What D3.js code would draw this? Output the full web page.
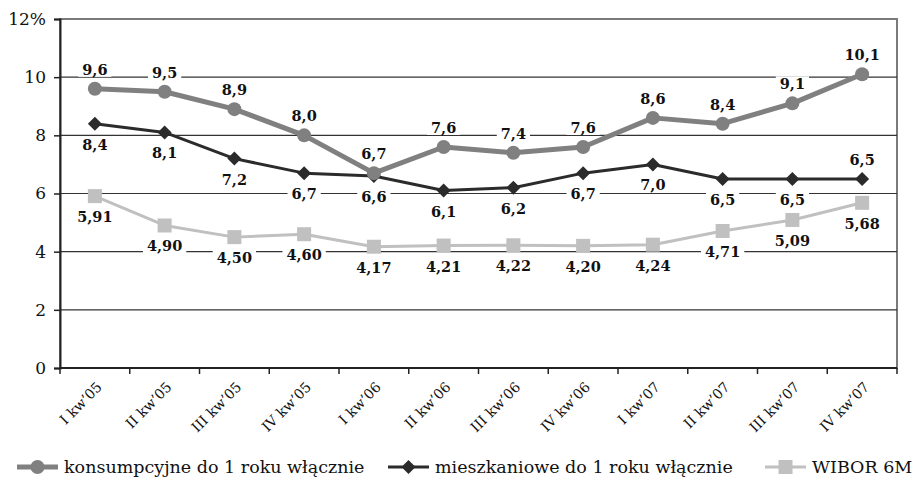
<!DOCTYPE html>
<html>
<head>
<meta charset="utf-8">
<script src="https://cdn.jsdelivr.net/npm/d3@7"></script>
<style>
  html, body { margin: 0; padding: 0; background: #fff; }
  svg { display: block; font-family: "DejaVu Serif", serif; }
</style>
</head>
<body>
<svg id="chart" width="919" height="494"></svg>
<script>
// Quarters on the x axis
const categories = ["I kw’05", "II kw’05", "III kw’05", "IV kw’05",
                    "I kw’06", "II kw’06", "III kw’06", "IV kw’06",
                    "I kw’07", "II kw’07", "III kw’07", "IV kw’07"];

// Interest rates, %
const konsumpcyjne = [9.6, 9.5, 8.9, 8.0, 6.7, 7.6, 7.4, 7.6, 8.6, 8.4, 9.1, 10.1];
const mieszkaniowe = [8.4, 8.1, 7.2, 6.7, 6.6, 6.1, 6.2, 6.7, 7.0, 6.5, 6.5, 6.5];
const wibor6m      = [5.91, 4.90, 4.50, 4.60, 4.17, 4.21, 4.22, 4.20, 4.24, 4.71, 5.09, 5.68];

const seriesNames = ["konsumpcyjne do 1 roku włącznie",
                     "mieszkaniowe do 1 roku włącznie",
                     "WIBOR 6M"];

const yTicks = [0, 2, 4, 6, 8, 10, 12];

const svg = d3.select("#chart");
const plot = { left: 60, right: 897, top: 19, bottom: 368 };

const x = d3.scaleBand().domain(categories).range([plot.left, plot.right]);
const y = d3.scaleLinear().domain([0, 12]).range([plot.bottom, plot.top]);
const cx = c => x(c) + x.bandwidth() / 2;

// Frame (top and right edges are light)
svg.append("rect")
  .attr("x", plot.left).attr("y", plot.top)
  .attr("width", plot.right - plot.left).attr("height", plot.bottom - plot.top)
  .attr("fill", "none").attr("stroke", "#7a7a7a").attr("stroke-width", 2);

// Horizontal gridlines
svg.append("g").selectAll("line")
  .data(yTicks.filter(t => t > 0 && t < 12))
  .join("line")
  .attr("x1", plot.left).attr("x2", plot.right)
  .attr("y1", d => y(d)).attr("y2", d => y(d))
  .attr("stroke", "#333").attr("stroke-width", 1.2);

// Y axis
const yAxis = svg.append("g")
  .attr("transform", `translate(${plot.left},0)`)
  .call(d3.axisLeft(y).tickValues(yTicks)
    .tickFormat(d => d === 12 ? "12%" : String(d))
    .tickSize(6).tickPadding(8));
yAxis.select(".domain").attr("stroke", "#222").attr("stroke-width", 2);
yAxis.selectAll(".tick line").attr("stroke", "#222").attr("stroke-width", 1.5);
yAxis.selectAll(".tick text")
  .attr("font-family", "DejaVu Serif, serif")
  .attr("font-size", 17).attr("fill", "#111");

// X axis: baseline, ticks at band edges, rotated labels
svg.append("line")
  .attr("x1", plot.left).attr("x2", plot.right)
  .attr("y1", plot.bottom).attr("y2", plot.bottom)
  .attr("stroke", "#222").attr("stroke-width", 2);

const edges = categories.map(c => x(c)).concat([x(categories[categories.length - 1]) + x.bandwidth()]);
svg.append("g").selectAll("line")
  .data(edges)
  .join("line")
  .attr("x1", d => d).attr("x2", d => d)
  .attr("y1", plot.bottom).attr("y2", plot.bottom + 6)
  .attr("stroke", "#222").attr("stroke-width", 1.5);

const labelPivotY = plot.bottom + 20;
svg.append("g").selectAll("text")
  .data(categories)
  .join("text")
  .attr("x", d => cx(d) + 8)
  .attr("y", labelPivotY)
  .attr("transform", d => `rotate(-45, ${cx(d) + 8}, ${labelPivotY})`)
  .attr("text-anchor", "end")
  .attr("font-size", 14)
  .attr("fill", "#111")
  .text(d => d);

// Series definitions
const series = [
  { name: seriesNames[0], values: konsumpcyjne, color: "#808080", width: 5, marker: "circle",
    fmt: v => d3.format(".1f")(v).replace(".", ","), pos: () => -1 },
  { name: seriesNames[1], values: mieszkaniowe, color: "#2b2b2b", width: 3, marker: "diamond",
    fmt: v => d3.format(".1f")(v).replace(".", ","), pos: (v, i) => i === categories.length - 1 ? -1 : 1 },
  { name: seriesNames[2], values: wibor6m, color: "#c0c0c0", width: 3, marker: "square",
    fmt: v => d3.format(".2f")(v).replace(".", ","), pos: () => 1 }
];

const line = d3.line().x((d, i) => cx(categories[i])).y(d => y(d));

function drawMarker(g, type, color) {
  if (type === "circle") {
    g.append("circle").attr("r", 7).attr("fill", color);
  } else if (type === "diamond") {
    g.append("path").attr("d", "M0,-7L7,0L0,7L-7,0Z").attr("fill", color);
  } else {
    g.append("rect").attr("x", -7).attr("y", -7).attr("width", 14).attr("height", 14).attr("fill", color);
  }
}

// Draw bottom series first so the top ones sit above
[...series].reverse().forEach(s => {
  svg.append("path")
    .datum(s.values)
    .attr("d", line)
    .attr("fill", "none")
    .attr("stroke", s.color)
    .attr("stroke-width", s.width)
    .attr("stroke-linejoin", "round");
  s.values.forEach((v, i) => {
    const g = svg.append("g").attr("transform", `translate(${cx(categories[i])},${y(v)})`);
    drawMarker(g, s.marker, s.color);
  });
});

// Value labels with white backing
const labelLayer = svg.append("g");
series.forEach(s => {
  s.values.forEach((v, i) => {
    const dir = s.pos(v, i);
    const lx = cx(categories[i]);
    const ly = y(v) + (dir < 0 ? -14 : 26);
    const g = labelLayer.append("g");
    const t = g.append("text")
      .attr("x", lx).attr("y", ly)
      .attr("text-anchor", "middle")
      .attr("font-size", 14.5).attr("font-weight", "bold")
      .attr("fill", "#111")
      .text(s.fmt(v));
    const b = t.node().getBBox();
    g.insert("rect", "text")
      .attr("x", b.x - 4).attr("y", b.y + 1)
      .attr("width", b.width + 8).attr("height", b.height - 2)
      .attr("fill", "#fff");
  });
});

// Legend
const legendY = 467;
const legendItems = [
  { s: series[0], x: 17 },
  { s: series[1], x: 388 },
  { s: series[2], x: 765 }
];
legendItems.forEach(({ s, x: lx }) => {
  const g = svg.append("g").attr("transform", `translate(${lx},${legendY})`);
  g.append("line").attr("x1", 0).attr("x2", 41).attr("y1", 0).attr("y2", 0)
    .attr("stroke", s.color).attr("stroke-width", s.width);
  const m = g.append("g").attr("transform", "translate(20.5,0)");
  drawMarker(m, s.marker, s.color);
  g.append("text")
    .attr("x", 47).attr("y", 6)
    .attr("font-size", 17.5).attr("fill", "#111")
    .text(s.name);
});
</script>
</body>
</html>
